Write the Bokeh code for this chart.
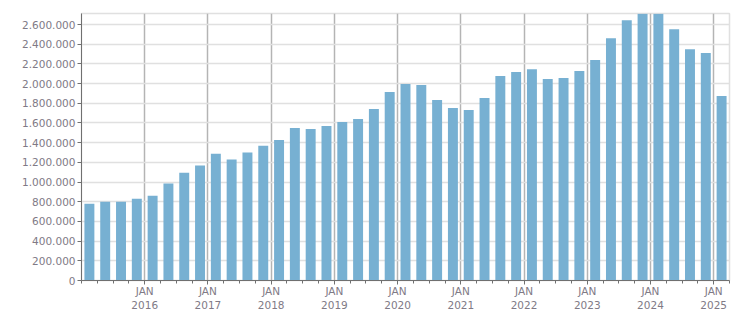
from bokeh.plotting import figure
from bokeh.models import FixedTicker, Range1d
from bokeh.embed import file_html
from bokeh.resources import INLINE

# Quarterly data, Q1 2015 .. Q1 2025
start_year = 2015
quarters = [f"{start_year + i // 4}-Q{i % 4 + 1}" for i in range(41)]
values = [
    780000, 800000, 800000, 830000,      # 2015
    860000, 985000, 1095000, 1168000,    # 2016
    1288000, 1228000, 1300000, 1368000,  # 2017
    1428000, 1550000, 1540000, 1570000,  # 2018
    1611000, 1641000, 1742000, 1914000,  # 2019
    1996000, 1985000, 1833000, 1752000,  # 2020
    1732000, 1854000, 2077000, 2117000,  # 2021
    2147000, 2046000, 2056000, 2127000,  # 2022
    2239000, 2461000, 2644000, 2710000,  # 2023
    2710000, 2553000, 2350000, 2310000,  # 2024
    1874000,                             # 2025
]
year_labels = [str(y) for y in range(2016, 2026)]
y_ticks = list(range(0, 2600001, 200000))

# x position: quarter index, bar centred in middle of its quarter
x = [i + 0.5 for i in range(len(quarters))]
major = [4 * (int(y) - start_year) for y in year_labels]
minor = list(range(0, len(quarters) + 1))

p = figure(width=751, height=313, output_backend="svg", toolbar_location=None,
           x_range=Range1d(0, len(quarters)), y_range=Range1d(0, 2712000),
           min_border_left=81, min_border_right=22, min_border_top=13, min_border_bottom=32)

p.vbar(x=x, top=values, width=0.63, fill_color="#77b0d2", line_color=None)

text_color = "#807a86"
font = "DejaVu Sans"

p.xaxis.ticker = FixedTicker(ticks=major, minor_ticks=minor)
p.xaxis.major_label_overrides = {m: f"JAN\n{y}" for m, y in zip(major, year_labels)}
p.xaxis.major_label_text_font = font
p.xaxis.major_label_text_font_size = "10.5px"
p.xaxis.major_label_text_color = text_color
p.xaxis.major_label_standoff = 0
p.xaxis.major_tick_in = 0
p.xaxis.major_tick_out = 4
p.xaxis.minor_tick_in = 0
p.xaxis.minor_tick_out = 3
p.xaxis.axis_line_color = "#707070"
p.xaxis.major_tick_line_color = "#707070"
p.xaxis.minor_tick_line_color = "#707070"

p.yaxis.ticker = FixedTicker(ticks=y_ticks, minor_ticks=[])
p.yaxis.major_label_overrides = {t: f"{t:,}".replace(",", ".") for t in y_ticks}
p.yaxis.major_label_text_font = font
p.yaxis.major_label_text_font_size = "10.5px"
p.yaxis.major_label_text_color = text_color
p.yaxis.major_label_standoff = 2
p.yaxis.major_tick_in = 0
p.yaxis.major_tick_out = 4
p.yaxis.minor_tick_line_color = None
p.yaxis.axis_line_color = "#707070"
p.yaxis.major_tick_line_color = "#707070"

p.xgrid.grid_line_color = "#b4b4b4"
p.xgrid.grid_line_width = 1.5
p.ygrid.grid_line_color = "#e0e0e0"
p.ygrid.grid_line_width = 1.5

p.outline_line_color = "#e0e0e0"
p.outline_line_width = 1.5
p.background_fill_color = "white"
p.border_fill_color = "white"

open("out.html", "w").write(file_html(p, INLINE))
